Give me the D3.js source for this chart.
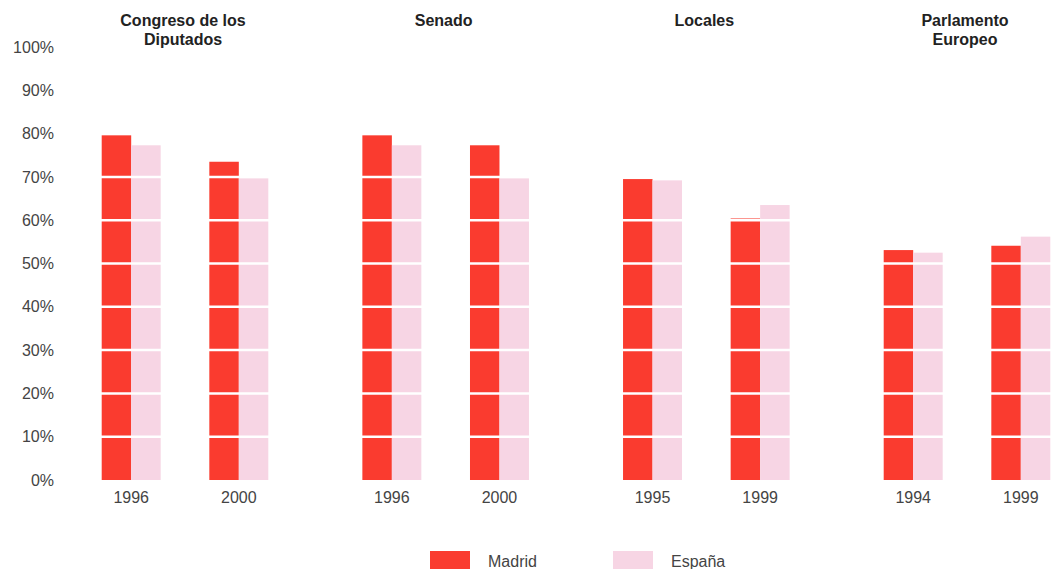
<!DOCTYPE html>
<html>
    <head>
        <title>Participacion electoral Madrid - Espana</title>
        <meta charset="UTF-8">
        <script type="text/javascript" src="https://cdn.jsdelivr.net/npm/d3@7"></script>
        <style type="text/css">
            body { margin: 0; background: #fff; }
            text { font-family: "Liberation Sans", Arial, sans-serif; }
        </style>
    </head>
    <body>
        <div id="chart"></div>

        <script type="text/javascript">

            var svgW = 1052; //svg width
            var svgH = 569;  //svg height

            // elections (groups), with title lines
            var elections = ["Congreso", "Senado", "Locales", "Europeo"];
            var electionTitles = [
                ["Congreso de los", "Diputados"],
                ["Senado"],
                ["Locales"],
                ["Parlamento", "Europeo"]];
            // year of each of the two elections in a group
            var years = [
                ["1996", "2000"],
                ["1996", "2000"],
                ["1995", "1999"],
                ["1994", "1999"]];
            var series = ["Madrid", "España"];
            // turnout (%) per group, per year
            var madrid = [
                [79.6, 73.5],
                [79.6, 77.3],
                [69.5, 60.4],
                [53.1, 54.1]];
            var espana = [
                [77.3, 69.7],
                [77.3, 69.7],
                [69.2, 63.5],
                [52.5, 56.2]];
            var yTicks = [0, 10, 20, 30, 40, 50, 60, 70, 80, 90, 100];

            var colors = {"Madrid": "#fa3b2f", "España": "#f7d5e4"};

            var svg = d3.select("#chart").append("svg")
                    .attr("width", svgW)
                    .attr("height", svgH);

            ///////////////////////////////////////////////////////////////
            // scales
            ///////////////////////////////////////////////////////////////
            var y = d3.scaleLinear().domain([0, 100]).range([480, 47]);
            // center of each election group
            var x0 = d3.scalePoint().domain(elections).range([185, 967]);
            // the two years, relative to group center
            var x1 = d3.scaleBand().domain([0, 1]).range([-83.3, 83.3])
                    .paddingInner(0.452).paddingOuter(0);
            // Madrid / España inside one year
            var x2 = d3.scaleBand().domain(series).range([0, x1.bandwidth()]);

            // flatten into one record per bar
            var bars = [];
            elections.forEach(function (e, i) {
                [0, 1].forEach(function (j) {
                    bars.push({e: e, j: j, s: "Madrid", v: madrid[i][j]});
                    bars.push({e: e, j: j, s: "España", v: espana[i][j]});
                });
            });

            svg.append("g").selectAll("rect")
                    .data(bars)
                    .enter()
                    .append("rect")
                    .attr("x", function (d) {
                        return x0(d.e) + x1(d.j) + x2(d.s);
                    })
                    .attr("y", function (d) { return y(d.v); })
                    .attr("width", x2.bandwidth())
                    .attr("height", function (d) { return y(0) - y(d.v); })
                    .attr("fill", function (d) { return colors[d.s]; });

            // white grid lines cutting through the bars
            svg.append("g").selectAll("line")
                    .data(yTicks.filter(function (t) { return t > 0 && t < 100; }))
                    .enter()
                    .append("line")
                    .attr("x1", 60)
                    .attr("x2", svgW)
                    .attr("y1", function (d) { return y(d); })
                    .attr("y2", function (d) { return y(d); })
                    .attr("stroke", "#fff")
                    .attr("stroke-width", 2.5);

            // y axis (labels only)
            var yAxis = svg.append("g")
                    .attr("transform", "translate(54,0)")
                    .call(d3.axisLeft(y).tickValues(yTicks)
                            .tickSize(0).tickPadding(0)
                            .tickFormat(function (d) { return d + "%"; }));
            yAxis.select(".domain").remove();
            yAxis.selectAll("text")
                    .attr("fill", "#444")
                    .style("font-size", "16px");

            // year labels under each pair
            elections.forEach(function (e, i) {
                svg.append("g").selectAll("text")
                        .data([0, 1])
                        .enter()
                        .append("text")
                        .attr("x", function (j) {
                            return x0(e) + x1(j) + x1.bandwidth() / 2;
                        })
                        .attr("y", 503)
                        .attr("text-anchor", "middle")
                        .attr("fill", "#444")
                        .style("font-size", "16px")
                        .text(function (j) { return years[i][j]; });

                // election title
                svg.append("text")
                        .attr("x", x0(e) - 2)
                        .attr("y", 26)
                        .attr("text-anchor", "middle")
                        .attr("fill", "#222")
                        .style("font-size", "16px")
                        .style("font-weight", "bold")
                        .selectAll("tspan")
                        .data(electionTitles[i])
                        .enter()
                        .append("tspan")
                        .attr("x", x0(e) - 2)
                        .attr("dy", function (d, k) { return k === 0 ? 0 : 19; })
                        .text(function (d) { return d; });
            });

            // legend
            var legendX = [430, 613];
            var legend = svg.append("g").selectAll("g")
                    .data(series)
                    .enter()
                    .append("g")
                    .attr("transform", function (d, i) {
                        return "translate(" + legendX[i] + ",551)";
                    });
            legend.append("rect")
                    .attr("width", 40)
                    .attr("height", 22)
                    .attr("fill", function (d) { return colors[d]; });
            legend.append("text")
                    .attr("x", 58)
                    .attr("y", 16)
                    .attr("fill", "#444")
                    .style("font-size", "16px")
                    .text(function (d) { return d; });
        </script>

    </body>
</html>
